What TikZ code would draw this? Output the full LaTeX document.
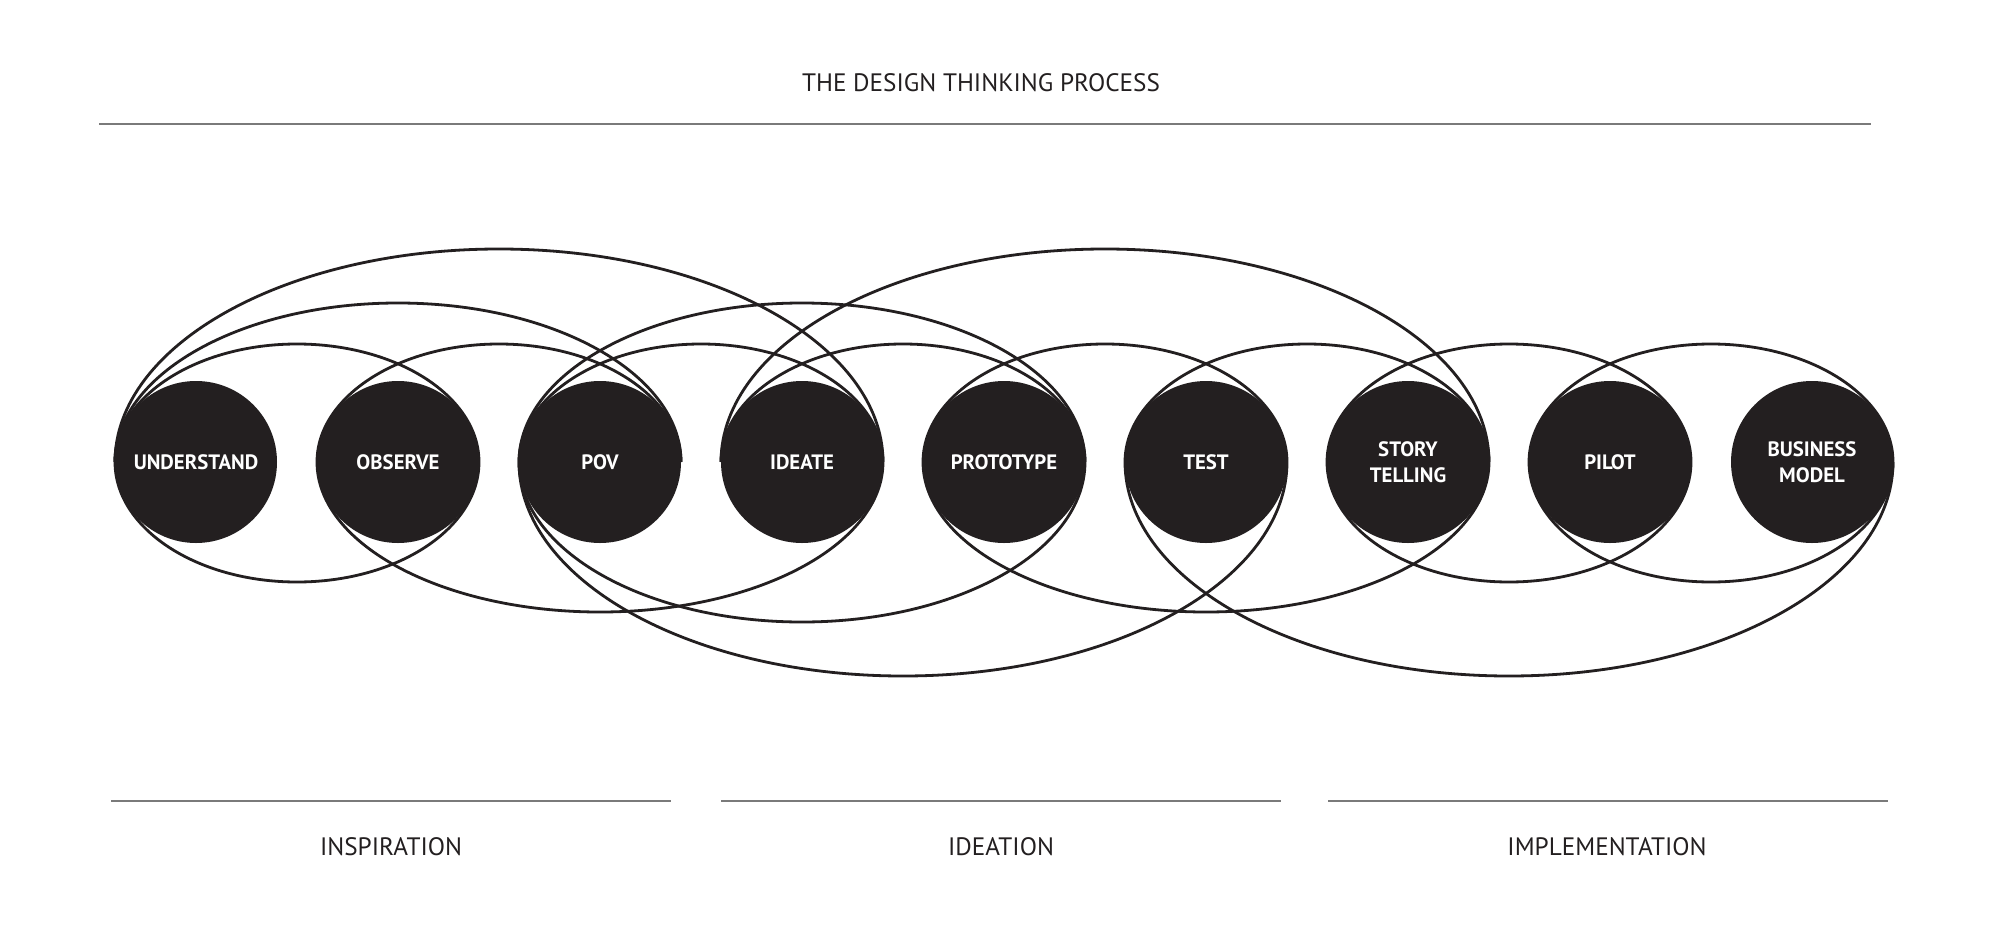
\documentclass[tikz,border=0pt]{standalone}
\usepackage{fontspec}
\setmainfont{PT Sans}
\usetikzlibrary{backgrounds}
\definecolor{circfill}{HTML}{231F20}
\definecolor{rulegray}{HTML}{7A7A7A}
\definecolor{textcol}{HTML}{231F20}
\begin{document}
\begin{tikzpicture}[x=0.5pt,y=-0.5pt,
  stage/.style={circle, fill=circfill, minimum size=81pt, inner sep=0pt, outer sep=0pt,
    text=white, font=\bfseries\fontsize{10.4}{13}\selectfont, align=center},
  loopline/.style={draw=circfill, line width=1.4pt},
  rulerline/.style={draw=rulegray, line width=1pt},
  caption/.style={font=\fontsize{12.6}{15}\selectfont, text=textcol, inner sep=0pt}]
\useasboundingbox (0,0) rectangle (2000,931);
% stages
\node[stage] (u)  at (196,462)  {UNDERSTAND};
\node[stage] (o)  at (398,462)  {OBSERVE};
\node[stage] (p)  at (600,462)  {POV};
\node[stage] (i)  at (802,462)  {IDEATE};
\node[stage] (pr) at (1004,462) {PROTOTYPE};
\node[stage] (t)  at (1206,462) {TEST};
\node[stage] (s)  at (1408,462) {STORY\\TELLING};
\node[stage] (pi) at (1610,462) {PILOT};
\node[stage] (b)  at (1812,462) {BUSINESS\\MODEL};
\begin{scope}[on background layer]
\fill[white] (0,0) rectangle (2000,931);
% small top arcs between neighbours
\foreach \n in {u,o,p,i,pr,t,s,pi}
  \draw[loopline] (\n.west) arc[start angle=180, end angle=0, x radius=91pt, y radius=59pt];
% medium top arcs
\foreach \n in {u,p}
  \draw[loopline] (\n.west) arc[start angle=180, end angle=0, x radius=141.5pt, y radius=79.5pt];
% big top arcs
\foreach \n in {u,i}
  \draw[loopline] (\n.west) arc[start angle=180, end angle=0, x radius=192pt, y radius=106.5pt];
% small bottom arcs
\foreach \n in {u,s,pi}
  \draw[loopline] (\n.west) arc[start angle=180, end angle=360, x radius=91pt, y radius=60pt];
% medium bottom arcs
\foreach \n in {o,pr}
  \draw[loopline] (\n.west) arc[start angle=180, end angle=360, x radius=141.5pt, y radius=75pt];
\draw[loopline] (p.west) arc[start angle=180, end angle=360, x radius=141.5pt, y radius=80pt];
% big bottom arcs
\foreach \n in {p,t}
  \draw[loopline] (\n.west) arc[start angle=180, end angle=360, x radius=192pt, y radius=107pt];
\end{scope}
% title and rules
\node[caption] (title) at (981,83) {THE DESIGN THINKING PROCESS};
\draw[rulerline] (99,124) -- (1871,124);
\draw[rulerline] (111,801) -- (671,801);
\draw[rulerline] (721,801) -- (1281,801);
\draw[rulerline] (1328,801) -- (1888,801);
\node[caption] (insp) at (391,847)  {INSPIRATION};
\node[caption] (idea) at (1001,847) {IDEATION};
\node[caption] (impl) at (1607,847) {IMPLEMENTATION};
\end{tikzpicture}
\end{document}
